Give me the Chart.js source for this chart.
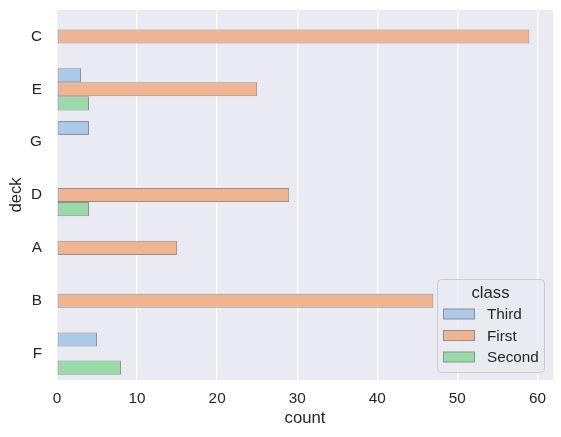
<!DOCTYPE html>
<html>
<head>
<meta charset="utf-8">
<script src="https://cdn.jsdelivr.net/npm/chart.js@4"></script>
<style>
  html, body { margin: 0; padding: 0; background: #ffffff; }
  #wrap { width: 561px; height: 437px; }
</style>
</head>
<body>
<div id="wrap"><canvas id="myChart" width="561" height="437"></canvas></div>
<script>
// decks in the order seaborn put them
const decks = ['C', 'E', 'G', 'D', 'A', 'B', 'F'];
// counts per class (null = no bar)
const third  = [null, 3, 4, null, null, null, 5];
const first  = [59, 25, null, 29, 15, 47, null];
const second = [null, 4, null, 4, null, null, 8];
const classes = ['Third', 'First', 'Second'];
const xTicks = [0, 10, 20, 30, 40, 50, 60];

const colors = ['#abc9ea', '#f0b590', '#98dba7'];
const edge = '#8f8f8f';
const ink = '#262626';
const fam = "'Liberation Sans', Arial, sans-serif";

function bars(label, data, color) {
  return {
    label: label,
    data: data,
    backgroundColor: color,
    borderColor: edge,
    borderWidth: 1,
    borderSkipped: false,
    categoryPercentage: 0.8,
    barPercentage: 1.0
  };
}

// legend box drawn inside the plot, bottom right, like matplotlib
const boxLegend = {
  id: 'boxLegend',
  afterDraw(chart) {
    const ctx = chart.ctx;
    const x = 437, y = 279, w = 107, h = 93, r = 4;
    ctx.save();
    ctx.beginPath();
    ctx.roundRect(x + 0.5, y + 0.5, w, h, r);
    ctx.fillStyle = 'rgba(234,234,242,0.8)';
    ctx.fill();
    ctx.strokeStyle = '#cccccc';
    ctx.lineWidth = 1;
    ctx.stroke();

    ctx.fillStyle = ink;
    ctx.textBaseline = 'middle';
    ctx.textAlign = 'center';
    ctx.font = '16.7px ' + fam;
    ctx.fillText('class', x + w / 2, y + 14);

    ctx.textAlign = 'left';
    ctx.font = '15.3px ' + fam;
    chart.data.datasets.forEach(function (ds, i) {
      const cy = y + 35 + i * 21.5;
      ctx.fillStyle = ds.backgroundColor;
      ctx.fillRect(x + 6.5, cy - 5, 31, 10);
      ctx.strokeStyle = edge;
      ctx.strokeRect(x + 6.5, cy - 5, 31, 10);
      ctx.fillStyle = ink;
      ctx.fillText(ds.label, x + 50, cy + 1);
    });
    ctx.restore();
  }
};

// plot background
const plotBg = {
  id: 'plotBg',
  beforeDraw(chart) {
    const a = chart.chartArea;
    chart.ctx.save();
    chart.ctx.fillStyle = '#eaeaf2';
    chart.ctx.fillRect(a.left, a.top, a.right - a.left, a.bottom - a.top);
    chart.ctx.restore();
  }
};

const ctx = document.getElementById('myChart');
new Chart(ctx, {
  type: 'bar',
  data: {
    labels: decks,
    datasets: [
      bars(classes[0], third, colors[0]),
      bars(classes[1], first, colors[1]),
      bars(classes[2], second, colors[2])
    ]
  },
  options: {
    indexAxis: 'y',
    responsive: false,
    animation: false,
    devicePixelRatio: 1,
    layout: { padding: { top: 10, right: 8, left: 0, bottom: 0 } },
    plugins: {
      legend: { display: false },
      tooltip: { enabled: false }
    },
    scales: {
      x: {
        type: 'linear',
        min: 0,
        max: 61.95,
        afterFit(s) { s.height = 57; s.paddingLeft = 0; s.paddingRight = 0; },
        afterBuildTicks(s) { s.ticks = xTicks.map(v => ({ value: v })); },
        ticks: { color: ink, font: { family: fam, size: 15.3 }, padding: 10, maxRotation: 0 },
        grid: { color: '#ffffff', lineWidth: 1.3, drawTicks: false },
        border: { display: false },
        title: { display: true, text: 'count', color: ink, font: { family: fam, size: 16.7 }, padding: { top: 0, bottom: 9 } }
      },
      y: {
        afterFit(s) { s.width = 57; s.paddingTop = 0; s.paddingBottom = 0; },
        ticks: { color: ink, font: { family: fam, size: 15.3 }, padding: 15 },
        grid: { display: false, drawTicks: false },
        border: { display: false },
        title: { display: true, text: 'deck', color: ink, font: { family: fam, size: 16.7 }, padding: { top: 6, bottom: 0 } }
      }
    }
  },
  plugins: [plotBg, boxLegend]
});
</script>
</body>
</html>
